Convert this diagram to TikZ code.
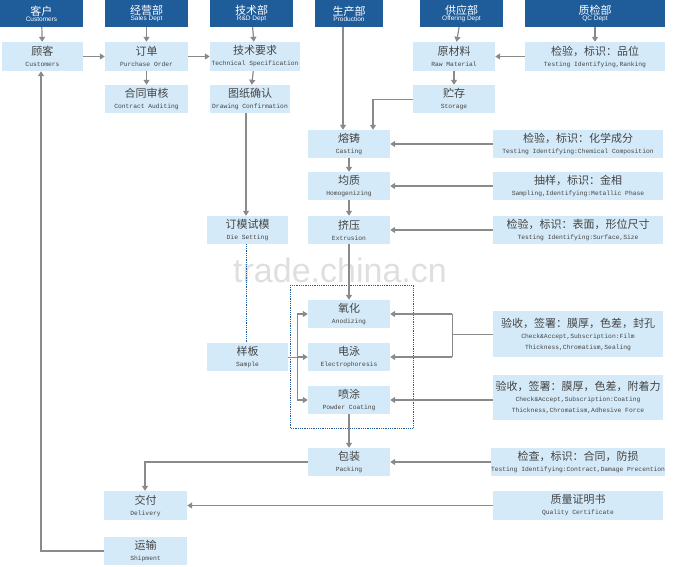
\documentclass[tikz,border=0pt]{standalone}
\usepackage{fontspec}
\setmainfont{Liberation Sans}
\newfontfamily\cjk{Noto Sans CJK SC}
\newfontfamily\mono{Liberation Mono}
\usetikzlibrary{arrows.meta}
\definecolor{hdr}{HTML}{1F5C9A}
\definecolor{bx}{HTML}{D5EAF8}
\definecolor{ln}{HTML}{8A8A8A}
\definecolor{tx}{HTML}{444444}
\tikzset{
 hd/.style={fill=hdr,text=white,inner sep=0pt,align=center,font=\fontsize{6.5}{7}\selectfont},
 bxs/.style={fill=bx,inner sep=0pt,align=center,text=tx},
 ar/.style={draw=ln,line width=1.2pt,-{Triangle[length=5pt,width=6pt]}},
 pl/.style={draw=ln,line width=1pt},
}
\newcommand{\mt}[1]{{\mono\fontsize{6.3}{7}\selectfont #1}}
\newcommand{\bt}[2]{{\cjk\fontsize{11}{12}\selectfont #1}\\[-1pt]\mt{#2}}
\newcommand{\hdt}[2]{{\cjk\fontsize{11}{12}\selectfont #1}\\[-1pt]#2}
\begin{document}
\begin{tikzpicture}[x=1pt,y=-1pt]
\useasboundingbox (0,0) rectangle (680,566);
\node[text=gray!25,font=\fontsize{34}{36}\selectfont] at (340,270) {trade.china.cn};
% headers
\node[hd,minimum width=83,minimum height=27] (h1) at (41.5,13.5) {\hdt{客户}{Customers}};
\node[hd,minimum width=83,minimum height=27] (h2) at (146.5,13.5) {\hdt{经营部}{Sales Dept}};
\node[hd,minimum width=83,minimum height=27] (h3) at (251.5,13.5) {\hdt{技术部}{R\&D Dept}};
\node[hd,minimum width=68,minimum height=27] (h4) at (349,13.5) {\hdt{生产部}{Production}};
\node[hd,minimum width=83,minimum height=27] (h5) at (461.5,13.5) {\hdt{供应部}{Offering Dept}};
\node[hd,minimum width=140,minimum height=27] (h6) at (595,13.5) {\hdt{质检部}{QC Dept}};
% row boxes
\node[bxs,minimum width=81,minimum height=29] (cu) at (42.5,56.5) {\bt{顾客}{Customers}};
\node[bxs,minimum width=83,minimum height=29] (po) at (146.5,56.5) {\bt{订单}{Purchase Order}};
\node[bxs,minimum width=90,minimum height=29] (ts) at (255,56.5) {\bt{技术要求}{Technical Specification}};
\node[bxs,minimum width=82,minimum height=29] (rm) at (454,56.5) {\bt{原材料}{Raw Material}};
\node[bxs,minimum width=140,minimum height=29] (qr) at (595,56.5) {\bt{检验，标识：品位}{Testing Identifying,Ranking}};
\node[bxs,minimum width=83,minimum height=28] (ca) at (146.5,99) {\bt{合同审核}{Contract Auditing}};
\node[bxs,minimum width=80,minimum height=28] (dc) at (250,99) {\bt{图纸确认}{Drawing Confirmation}};
\node[bxs,minimum width=82,minimum height=28] (st) at (454,99) {\bt{贮存}{Storage}};
% production
\node[bxs,minimum width=82,minimum height=28] (p1) at (349,144) {\bt{熔铸}{Casting}};
\node[bxs,minimum width=82,minimum height=28] (p2) at (349,186) {\bt{均质}{Homogenizing}};
\node[bxs,minimum width=82,minimum height=28] (p3) at (349,230) {\bt{挤压}{Extrusion}};
\node[bxs,minimum width=82,minimum height=28] (p4) at (349,314) {\bt{氧化}{Anodizing}};
\node[bxs,minimum width=82,minimum height=28] (p5) at (349,357) {\bt{电泳}{Electrophoresis}};
\node[bxs,minimum width=82,minimum height=28] (p6) at (349,400) {\bt{喷涂}{Powder Coating}};
\node[bxs,minimum width=82,minimum height=28] (p7) at (349,462) {\bt{包装}{Packing}};
% QC right
\node[bxs,minimum width=170,minimum height=28] (q1) at (578,144) {\bt{检验，标识：化学成分}{Testing Identifying:Chemical Composition}};
\node[bxs,minimum width=170,minimum height=28] (q2) at (578,186) {\bt{抽样，标识：金相}{Sampling,Identifying:Metallic Phase}};
\node[bxs,minimum width=170,minimum height=28] (q3) at (578,230) {\bt{检验，标识：表面，形位尺寸}{Testing Identifying:Surface,Size}};
\node[bxs,minimum width=170,minimum height=46] (q4) at (578,334) {\bt{验收，签署：膜厚，色差，封孔}{Check\&Accept,Subscription:Film}\\[-1pt]\mt{Thickness,Chromatism,Sealing}};
\node[bxs,minimum width=170,minimum height=45] (q5) at (578,397) {\bt{验收，签署：膜厚，色差，附着力}{Check\&Accept,Subscription:Coating}\\[-1pt]\mt{Thickness,Chromatism,Adhesive Force}};
\node[bxs,minimum width=170,minimum height=28] (q6) at (578,462) {\bt{检查，标识：合同，防损}{Testing Identifying:Contract,Damage Precention}};
\node[bxs,minimum width=170,minimum height=29] (q7) at (578,505.5) {\bt{质量证明书}{Quality Certificate}};
% left
\node[bxs,minimum width=81,minimum height=28] (ds) at (247.5,230) {\bt{订模试模}{Die Setting}};
\node[bxs,minimum width=81,minimum height=28] (sa) at (247.5,357) {\bt{样板}{Sample}};
\node[bxs,minimum width=83,minimum height=29] (de) at (145.5,505.5) {\bt{交付}{Delivery}};
\node[bxs,minimum width=83,minimum height=28] (sh) at (145.5,551) {\bt{运输}{Shipment}};
% dotted frame
\draw[densely dotted,draw=hdr,line width=0.8pt] (290,285) rectangle (413,428);
% arrows
\draw[ar] (h1) -- (cu); \draw[ar] (h2) -- (po); \draw[ar] (h3) -- (ts);
\draw[ar] (h5) -- (rm); \draw[ar] (h6) -- (qr);
\draw[ar] (cu) -- (po); \draw[ar] (po) -- (ts);
\draw[ar] (po) -- (ca); \draw[ar] (ts) -- (dc); \draw[ar] (rm) -- (st);
\draw[ar] (qr) -- (rm);
\draw[ar] (dc.south -| 246,0) -- (ds.north -| 246,0);
\draw[densely dotted,draw=hdr,line width=0.8pt] (ds.south -| 246,0) -- (sa.north -| 246,0);
\draw[ar] (h4.south -| 343,0) -- (p1.north -| 343,0);
\draw[pl] (st.west) -- (373,99);
\draw[ar] (373,99) -- (p1.north -| 373,0);
\draw[ar] (p1) -- (p2); \draw[ar] (p2) -- (p3); \draw[ar] (p3) -- (p4);
\draw[ar] (p6) -- (p7);
\draw[ar] (q1) -- (p1); \draw[ar] (q2) -- (p2); \draw[ar] (q3) -- (p3);
\draw[ar] (q5.west |- p6) -- (p6);
\draw[ar] (q6) -- (p7);
\draw[pl] (q4.west) -- (452,334);
\draw[pl] (452,314) -- (452,357);
\draw[ar] (452,314) -- (p4.east); \draw[ar] (452,357) -- (p5.east);
\draw[pl] (sa.east) -- (297,357);
\draw[pl] (297,314) -- (297,400);
\draw[ar] (297,314) -- (p4.west); \draw[ar] (297,357) -- (p5.west); \draw[ar] (297,400) -- (p6.west);
\draw[ar] (p7.west) -| (de.north -| 145,0);
\draw[ar] (q7) -- (de);
\draw[ar] (sh.west) -| (cu.south -| 41,0);
\end{tikzpicture}
\end{document}
